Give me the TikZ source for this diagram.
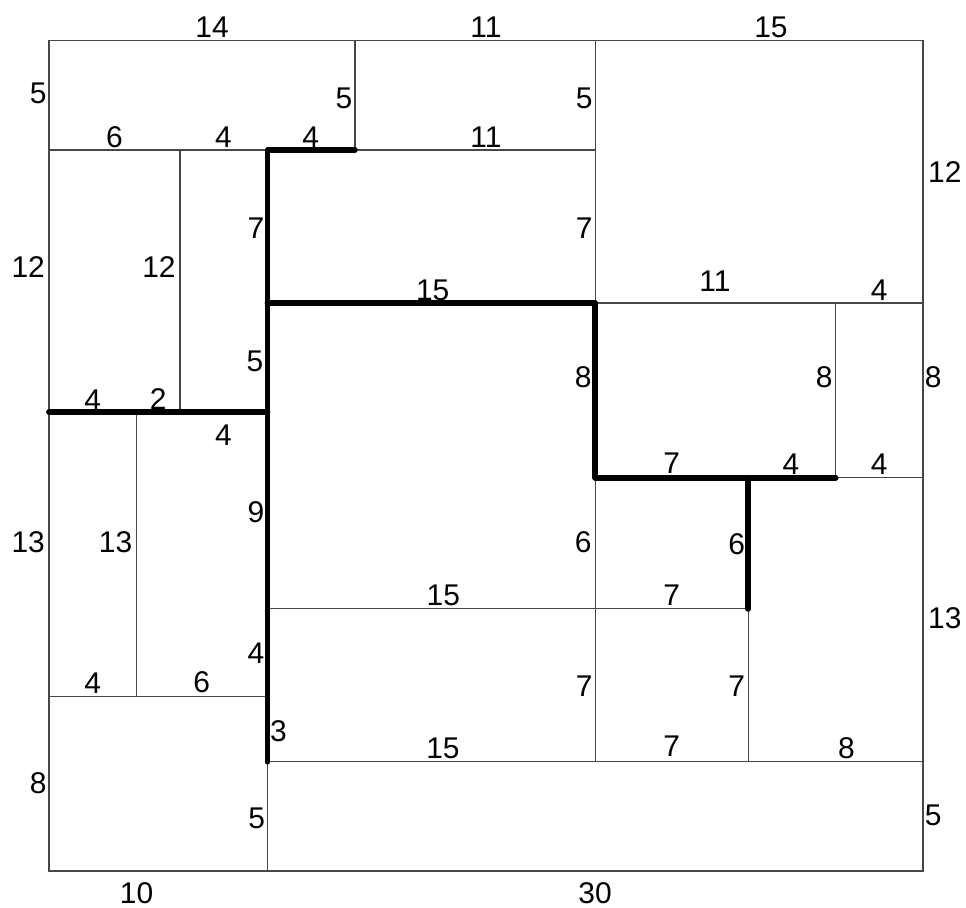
\documentclass[tikz,border=0pt]{standalone}
\usepackage{fontspec}
\setmainfont{Liberation Sans}

\begin{document}
\begin{tikzpicture}[x=0.5cm,y=0.5cm,wall/.style={line width=0.8pt,draw=black!72},heavy wall/.style={line width=3.8pt,line cap=round,line join=round},len/.style={inner sep=0pt,font=\fontsize{19.5}{23}\selectfont}]
  \useasboundingbox (-2.243,-1.693) rectangle (41.968,39.863);

  % thin walls
  \draw[wall] (0,0) rectangle (40,38);
  \draw[wall] (0,33) -- (25,33);
  \draw[wall] (14,33) -- (14,38);
  \draw[wall] (25,38) -- (25,5);
  \draw[wall] (6,33) -- (6,21);
  \draw[wall] (4,21) -- (4,8);
  \draw[wall] (0,8) -- (10,8);
  \draw[wall] (10,5) -- (10,0);
  \draw[wall] (25,26) -- (40,26);
  \draw[wall] (36,26) -- (36,18);
  \draw[wall] (36,18) -- (40,18);
  \draw[wall] (10,12) -- (32,12);
  \draw[wall] (32,12) -- (32,5);
  \draw[wall] (10,5) -- (40,5);

  % heavy walls
  \draw[heavy wall] (14,33) -- (10,33) -- (10,5);
  \draw[heavy wall] (0,21) -- (10,21);
  \draw[heavy wall] (10,26) -- (25,26) -- (25,18) -- (36,18);
  \draw[heavy wall] (32,18) -- (32,12);

  % outer lengths
  \node[len] (top1) at (7.46,38.63) {14};
  \node[len] (top2) at (20.0,38.63) {11};
  \node[len] (top3) at (33.04,38.63) {15};
  \node[len] (left1) at (-0.49,35.6) {5};
  \node[len] (left2) at (-0.95,27.66) {12};
  \node[len] (left3) at (-0.95,15.03) {13};
  \node[len] (left4) at (-0.49,4.01) {8};
  \node[len] (right1) at (41.0,32.0) {12};
  \node[len] (right2) at (40.47,22.6) {8};
  \node[len] (right3) at (41.0,11.56) {13};
  \node[len] (right4) at (40.47,2.56) {5};
  \node[len] (bot1) at (4.01,-1.02) {10};
  \node[len] (bot2) at (24.99,-1.02) {30};

  % inner lengths
  \node[len] (a1) at (13.5,35.36) {5};
  \node[len] (a2) at (24.49,35.36) {5};
  \node[len] (a3) at (2.99,33.58) {6};
  \node[len] (a4) at (7.98,33.58) {4};
  \node[len] (a5) at (11.98,33.58) {4};
  \node[len] (a6) at (20.0,33.6) {11};
  \node[len] (a7) at (5.03,27.66) {12};
  \node[len] (a8) at (9.47,29.41) {7};
  \node[len] (a9) at (24.49,29.44) {7};
  \node[len] (a10) at (30.48,27.0) {11};
  \node[len] (a11) at (37.99,26.59) {4};
  \node[len] (a12) at (17.56,26.59) {15};
  \node[len] (a13) at (9.43,23.31) {5};
  \node[len] (a14) at (24.45,22.6) {8};
  \node[len] (a15) at (35.48,22.6) {8};
  \node[len] (a16) at (2.0,21.56) {4};
  \node[len] (a17) at (5.0,21.58) {2};
  \node[len] (a18) at (7.98,19.95) {4};
  \node[len] (a19) at (28.5,18.66) {7};
  \node[len] (a20) at (33.96,18.63) {4};
  \node[len] (a21) at (37.99,18.63) {4};
  \node[len] (a22) at (9.47,16.4) {9};
  \node[len] (a23) at (3.05,15.03) {13};
  \node[len] (a24) at (24.45,15.03) {6};
  \node[len] (a25) at (31.47,14.97) {6};
  \node[len] (a26) at (28.5,12.63) {7};
  \node[len] (a27) at (18.05,12.63) {15};
  \node[len] (a28) at (9.47,9.96) {4};
  \node[len] (a29) at (2.0,8.59) {4};
  \node[len] (a30) at (6.99,8.62) {6};
  \node[len] (a31) at (24.49,8.44) {7};
  \node[len] (a32) at (31.47,8.44) {7};
  \node[len] (a33) at (10.5,6.38) {3};
  \node[len] (a34) at (18.03,5.63) {15};
  \node[len] (a35) at (28.5,5.69) {7};
  \node[len] (a36) at (36.5,5.61) {8};
  \node[len] (a37) at (9.5,2.41) {5};
\end{tikzpicture}
\end{document}
